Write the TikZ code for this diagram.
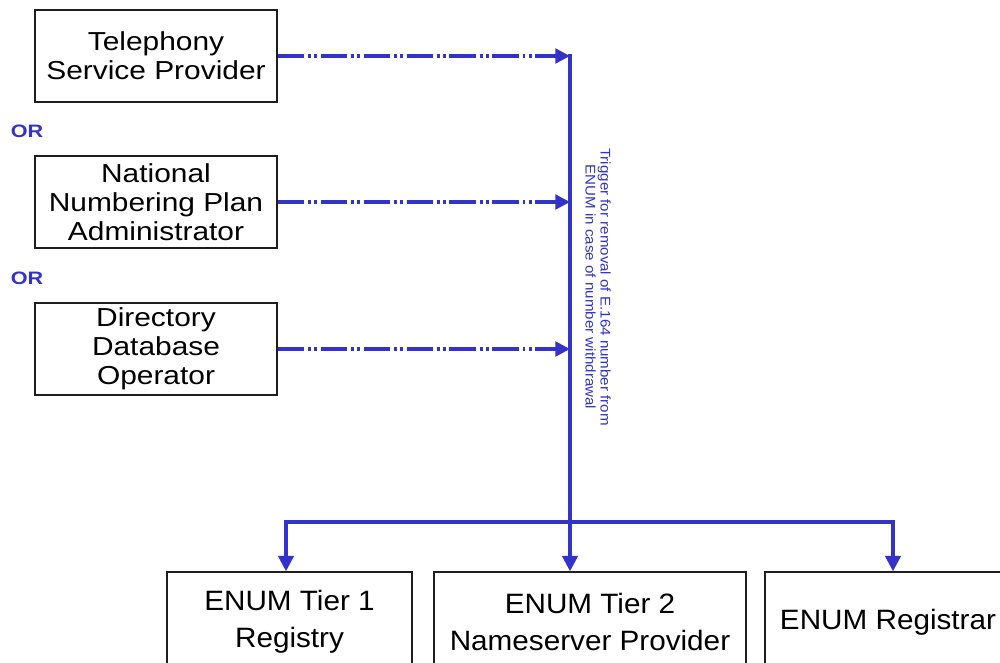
\documentclass[tikz,border=0pt]{standalone}
\usepackage{fontspec}
\usetikzlibrary{arrows.meta}
\setmainfont{Liberation Sans}
\newfontfamily\boxfont[FakeStretch=1.15]{Liberation Sans}
\newfontfamily\enumfont[FakeStretch=1.06]{Liberation Sans}
\newfontfamily\notefont[FakeStretch=1.08]{Liberation Sans}
\newfontfamily\orfont[FakeStretch=1.2]{Liberation Sans Bold}
\definecolor{flowblue}{RGB}{51,51,204}
\definecolor{edge}{RGB}{30,30,30}
\tikzset{
  srcbox/.style={draw=edge, line width=1.1pt, inner sep=0pt, align=center,
    minimum width=242*0.75pt, minimum height=92*0.75pt,
    font=\boxfont\fontsize{19.5}{21.8}\selectfont},
  enumbox/.style={draw=edge, line width=1.1pt, inner sep=0pt, align=center,
    minimum height=100*0.75pt,
    font=\enumfont\fontsize{21}{28}\selectfont},
  orlabel/.style={text=flowblue, inner sep=0pt, font=\orfont\fontsize{13.5}{14}\selectfont},
  flow/.style={draw=flowblue, line width=2.4pt},
  trigger/.style={flow, dash pattern=on 20pt off 2.6pt on 2.2pt off 2.6pt on 2.2pt off 2.6pt,
    -{Triangle[length=11pt,width=11pt]}},
  feed/.style={flow, -{Triangle[length=11.5pt,width=11.5pt]}}
}
\begin{document}
\begin{tikzpicture}[x=0.75pt,y=-0.75pt]
  \clip (0,0) rectangle (1000,662);
  \fill[white] (0,0) rectangle (1000,662);

  % sources that may trigger the removal
  \node[srcbox] (tsp)  at (156,56)  {Telephony\\Service Provider};
  \node[srcbox] (nnpa) at (156,202) {National\\Numbering Plan\\Administrator};
  \node[srcbox] (ddo)  at (156,349) {Directory\\Database\\Operator};
  \node[orlabel] (or1) at (27,131) {OR};
  \node[orlabel] (or2) at (27,278) {OR};

  % ENUM parties receiving the trigger
  \node[enumbox, minimum width=245*0.75pt] (tier1) at (289.5,622) {ENUM Tier 1\\Registry};
  \node[enumbox, minimum width=312*0.75pt] (tier2) at (590,622) {ENUM Tier 2\\Nameserver Provider};
  \node[enumbox, minimum width=246*0.75pt] (reg) at (888,622) {ENUM Registrar};

  % spine and distribution bar
  \coordinate (spine) at (570,0);
  \coordinate (hub) at (570,522);
  \coordinate (hl) at (286,522);
  \coordinate (hr) at (893,522);

  \draw[trigger] (tsp) -- (tsp -| spine);
  \draw[trigger] (nnpa) -- (nnpa -| spine);
  \draw[trigger] (ddo) -- (ddo -| spine);
  \draw[flow, line cap=rect] (tsp -| spine) -- (hub);
  \draw[flow, line cap=rect] (hl) -- (hr);
  \draw[feed] (hl) -- (hl |- tier1.north);
  \draw[feed] (hub) -- (hub |- tier2.north);
  \draw[feed] (hr) -- (hr |- reg.north);

  \node[rotate=-90, align=center, text=flowblue, inner sep=0pt,
        font=\notefont\fontsize{10.5}{11.25}\selectfont] (note) at (598,287)
    {Trigger for removal of E.164 number from\\ENUM in case of number withdrawal};
\end{tikzpicture}
\end{document}
